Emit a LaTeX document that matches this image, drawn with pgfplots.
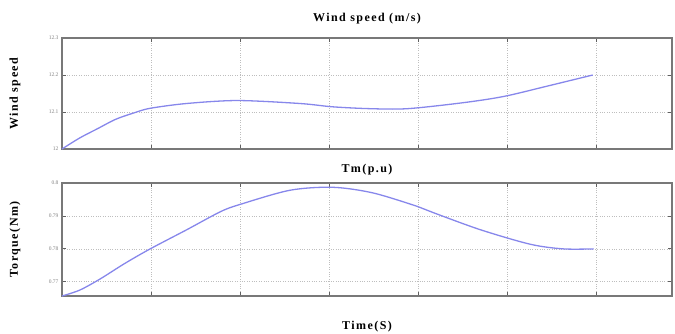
\documentclass[border=0pt]{standalone}
\usepackage{pgfplots}
\pgfplotsset{compat=1.18}
\usepackage{fontspec}
\setmainfont{Liberation Serif}
\newfontfamily\lblfont[LetterSpace=12]{Liberation Serif}
\definecolor{curve}{RGB}{135,135,235}
\definecolor{frame}{RGB}{120,120,120}
\definecolor{gridc}{RGB}{190,190,190}
\pgfplotsset{
  common/.style={
    scale only axis, width=610pt,
    xmin=0, xmax=6.85,
    xtick={0,1,2,3,4,5,6}, xticklabels={},
    grid=major, major grid style={dotted, gridc, line width=0.7pt},
    axis line style={frame, line width=1.2pt},
    tick style={frame!80!black, line width=0.8pt},
    major tick length=4pt,
    yticklabel style={font=\fontsize{5.5}{6}\selectfont, text=gray},
    /pgf/number format/assume math mode=true,
    ylabel style={font=\lblfont\fontsize{12}{14}\selectfont\bfseries, at={(axis description cs:0,0.5)}, anchor=center, yshift=47pt},
    title style={font=\lblfont\fontsize{12}{14}\selectfont\bfseries},
  }
}
\begin{document}
\begin{tikzpicture}
\path[use as bounding box] (0,0) rectangle (675pt,333pt);
\begin{axis}[common, at={(62pt,184pt)}, anchor=south west, height=111pt,
  ymin=12, ymax=12.3, ytick={12,12.1,12.2,12.3},
  yticklabel style={/pgf/number format/fixed, /pgf/number format/precision=1},
  ylabel={Wind speed}, title={Wind speed (m/s)}, title style={yshift=4pt}]
\addplot[curve, line width=1.3pt, smooth] coordinates {
(0,12.0) (0.2,12.03) (0.4,12.055) (0.6,12.08) (0.8,12.097) (0.99,12.11)
(1.4,12.123) (1.97,12.131) (2.67,12.123) (3.04,12.114) (3.46,12.109)
(3.88,12.109) (4.5,12.125) (4.96,12.142) (5.45,12.17) (5.96,12.2)};
\end{axis}
\begin{axis}[common, at={(62pt,37pt)}, anchor=south west, height=113pt,
  ymin=0.7657, ymax=0.8, ytick={0.77,0.78,0.79,0.8},
  yticklabel style={/pgf/number format/fixed, /pgf/number format/precision=2},
  ylabel={Torque(Nm)}, title={Tm(p.u)}, title style={yshift=-2pt},
  xlabel={Time(S)}, xlabel style={font=\lblfont\fontsize{12}{14}\selectfont\bfseries, yshift=-15pt}]
\addplot[curve, line width=1.3pt, smooth] coordinates {
(0,0.7657) (0.2,0.7675) (0.43,0.7709) (0.7,0.7755) (0.99,0.780) (1.4,0.7858)
(1.78,0.7913) (2.0,0.7935) (2.56,0.7978) (3.04,0.7987) (3.49,0.797)
(3.99,0.7929) (4.17,0.791) (4.7,0.7858) (5.26,0.7814) (5.63,0.780) (5.97,0.780)};
\end{axis}
\end{tikzpicture}
\end{document}
